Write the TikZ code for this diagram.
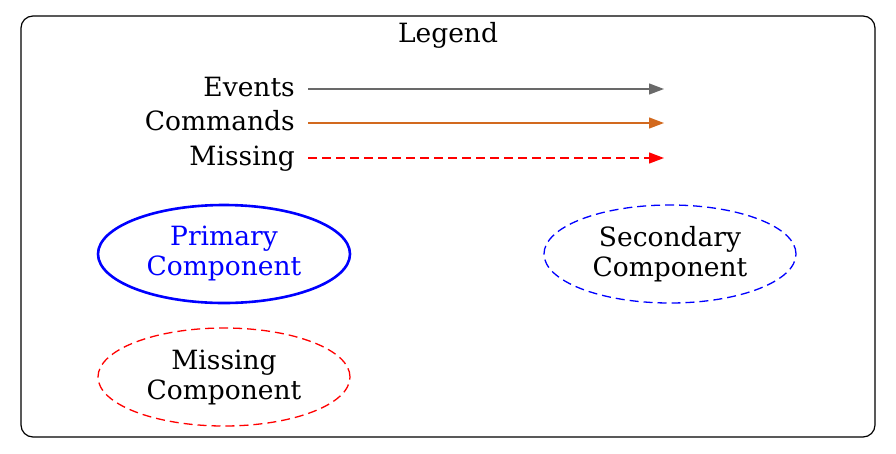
\documentclass[tikz,border=0pt]{standalone}
\usepackage{fontspec}
\setmainfont{DejaVu Serif}
\usetikzlibrary{arrows.meta,shapes.geometric}
\begin{document}
\begin{tikzpicture}[x=1pt,y=-1pt,
  lbl/.style={font=\fontsize{26.5}{30}\selectfont, inner sep=0pt},
  comp/.style={ellipse, minimum width=252pt, minimum height=98pt, align=center, font=\fontsize{26.5}{30}\selectfont, inner sep=0pt},
  legarrow/.style={line width=1.3pt, -{Triangle[length=15pt,width=11pt]}},
  dsh/.style={dash pattern=on 9pt off 5pt}
]
\useasboundingbox (0,0) rectangle (896,453);
\node[draw, rounded corners=12pt, line width=1.2pt, minimum width=854pt, minimum height=421pt, inner sep=0pt] (frame) at (448,226.5) {};
\node[lbl, anchor=base] (title) at (448,42) {Legend};
\node[lbl, anchor=base east] (ev) at (295,96) {Events};
\node[lbl, anchor=base east] (cm) at (295,130) {Commands};
\node[lbl, anchor=base east] (ms) at (295,165) {Missing};
\coordinate (e1) at (308,89); \coordinate (e2) at (664,89);
\coordinate (c1) at (308,123); \coordinate (c2) at (664,123);
\coordinate (m1) at (308,158); \coordinate (m2) at (664,158);
\draw[legarrow, draw={rgb,255:red,105;green,105;blue,105}, fill={rgb,255:red,105;green,105;blue,105}] (e1) -- (e2);
\draw[legarrow, draw={rgb,255:red,210;green,105;blue,30}, fill={rgb,255:red,210;green,105;blue,30}] (c1) -- (c2);
\draw[legarrow, red, dsh] (m1) -- (m2);
\node[comp, draw=blue, text=blue, line width=2.6pt] (prim) at (224,254) {Primary\\Component};
\node[comp, draw=blue, dsh, line width=1.3pt] (sec) at (670,254) {Secondary\\Component};
\node[comp, draw=red, dsh, line width=1.3pt] (miss) at (224,377) {Missing\\Component};
\end{tikzpicture}
\end{document}
